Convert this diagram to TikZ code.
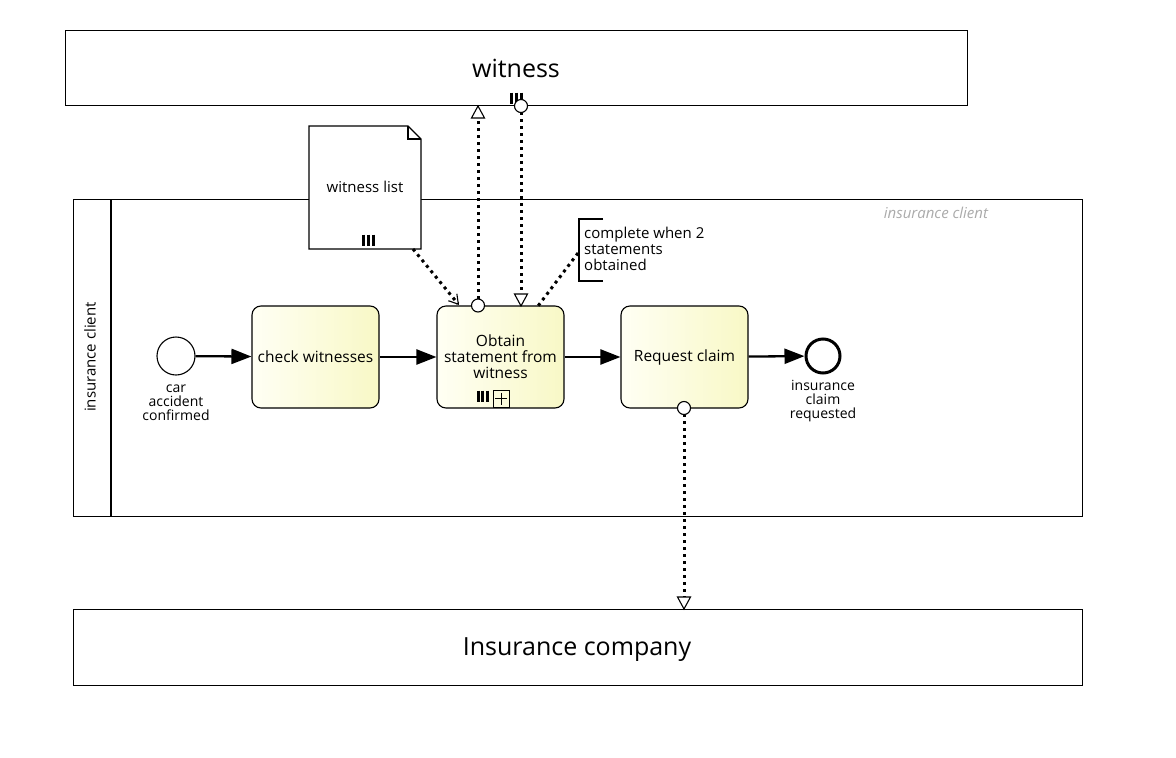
\documentclass[tikz,border=0pt]{standalone}
\usepackage{fontspec}
\setmainfont{Open Sans}
\usetikzlibrary{arrows.meta,calc}
\definecolor{taskfill}{HTML}{F8F8C6}
\definecolor{taskhi}{HTML}{FFFFF4}
\definecolor{grayt}{HTML}{AAAAAA}
\tikzset{
  pool/.style={draw=black, line width=1.3pt, rectangle, inner sep=0pt, anchor=north west},
  taskbox/.style={draw=black, line width=1.1pt, rounded corners=9pt, minimum width=127pt, minimum height=102pt, inner sep=0pt, shading=axis, shading angle=135, left color=taskhi, right color=taskfill, align=center, font=\fontsize{15.5}{16}\selectfont},
  seqflow/.style={line width=2.3pt, -{Triangle[length=20pt,width=15pt]}},
  msgflow/.style={line width=3pt, dash pattern=on 3pt off 4pt},
  opentri/.style={draw=black, fill=white, line width=1.1pt},
  evlabel/.style={font=\fontsize{14}{14}\selectfont, align=center, inner sep=0pt},
  mibar/.style={line width=3pt},
}
\begin{document}
\begin{tikzpicture}[x=1pt,y=-1pt]
\useasboundingbox (0,0) rectangle (1176,758);
% pools
\node[pool, minimum width=902pt, minimum height=75pt] (wpool) at (65,30) {};
\node[font=\fontsize{25}{28}\selectfont] (wlabel) at (516,68) {witness};
\node[pool, minimum width=1009pt, minimum height=317pt] (cpool) at (73,199) {};
\draw[line width=1.3pt] (111,199) -- (111,516);
\node[rotate=90, font=\fontsize{15}{16}\selectfont] (clabel) at (90,357) {insurance client};
\node[font=\fontsize{15}{16}\selectfont\itshape, text=grayt] (lanelabel) at (936,213) {insurance client};
\node[pool, minimum width=1009pt, minimum height=76pt] (ipool) at (73,609) {};
\node[font=\fontsize{25}{28}\selectfont] (ilabel) at (577,650) {Insurance company};
% pool multiplicity marker
\foreach \xx in {511,516,521} \draw[mibar] (\xx,92.5) -- (\xx,103.5);
% events
\node[draw, circle, line width=1.1pt, minimum size=38pt, inner sep=0pt, fill=white] (start) at (176,356) {};
\node[evlabel] (startlbl) at (176,403) {car\\accident\\confirmed};
\node[draw, circle, line width=3pt, minimum size=34pt, inner sep=0pt, fill=white] (end) at (823,356) {};
\node[evlabel] (endlbl) at (823,401) {insurance\\claim\\requested};
% tasks
\node[taskbox] (t1) at (315.5,357) {check witnesses};
\node[taskbox] (t2) at (500.5,357) {Obtain\\statement from\\witness};
\node[taskbox] (t3) at (684.5,357) {Request claim};
% task markers
\foreach \xx in {478,482.5,487} \draw[mibar] (\xx,390.5) -- (\xx,401.5);
\draw[line width=0.9pt] (493,390) rectangle (509,407);
\draw[line width=0.9pt] (501,392.5) -- (501,404.5) (495,398.5) -- (507,398.5);
% sequence flows
\draw[seqflow] (start) -- (t1);
\draw[seqflow] (t1) -- (t2);
\draw[seqflow] (t2) -- (t3);
\draw[seqflow] (t3) -- (end);
% data object
\draw[line width=1.1pt, fill=white] (309,126) -- (408,126) -- (421,139) -- (421,249) -- (309,249) -- cycle;
\draw[line width=1.1pt] (408,126) -- (408,139) -- (421,139);
\node[font=\fontsize{15}{16}\selectfont] (dobj) at (365,187) {witness list};
\foreach \xx in {363,368,373} \draw[mibar] (\xx,234.5) -- (\xx,245.5);
\coordinate (dobjout) at (413,249);
\coordinate (dassocend) at (459,305);
\draw[msgflow, -{Straight Barb[length=9pt,width=11pt,line width=1.1pt]}] (dobjout) -- (dassocend);
% annotation
\draw[line width=1.1pt] (603,219) -- (579,219) -- (579,281) -- (603,281);
\node[anchor=north west, align=left, inner sep=0pt, font=\fontsize{15}{16}\selectfont] (annot) at (584,227) {complete when 2\\statements\\obtained};
\coordinate (annA) at (578,253);
\coordinate (annB) at (538,306);
\draw[msgflow] (annA) -- (annB);
% message flows
\coordinate (m1s) at (478,299);
\coordinate (m1e) at (478,118);
\draw[msgflow] (m1s) -- (m1e);
\draw[opentri] (478,106) -- (484.5,118) -- (471.5,118) -- cycle;
\draw[opentri] (478,305.5) circle (6.5pt);
\coordinate (m2s) at (521,112);
\coordinate (m2e) at (521,294);
\draw[msgflow] (m2s) -- (m2e);
\draw[opentri] (521,106) circle (6.5pt);
\draw[opentri] (521,306) -- (527.5,294) -- (514.5,294) -- cycle;
\coordinate (m3s) at (684,414);
\coordinate (m3e) at (684,597);
\draw[msgflow] (m3s) -- (m3e);
\draw[opentri] (684,408) circle (6.5pt);
\draw[opentri] (684,609) -- (690.5,597) -- (677.5,597) -- cycle;
\end{tikzpicture}
\end{document}
